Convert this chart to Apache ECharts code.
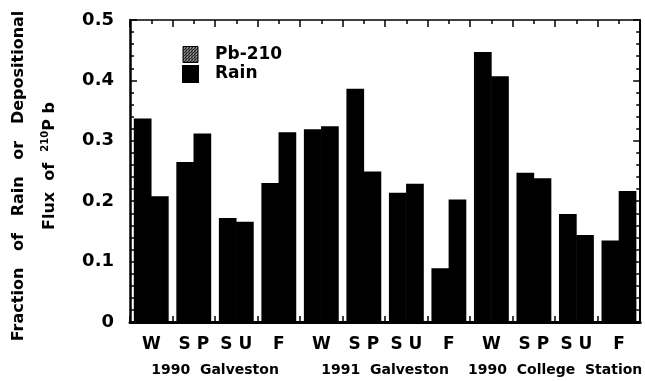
<!DOCTYPE html>
<html>
<head>
<meta charset="utf-8">
<script src="https://cdn.jsdelivr.net/npm/echarts@6/dist/echarts.min.js"></script>
<style>
  html, body { margin: 0; padding: 0; background: #fff; }
  #chart { width: 645px; height: 381px; }
</style>
</head>
<body>
<div id="chart"></div>
<script>
// Seasons for each site/year block
const categories = ['W', 'S P', 'S U', 'F', 'W', 'S P', 'S U', 'F', 'W', 'S P', 'S U', 'F'];
const groups = ['1990  Galveston', '1991  Galveston', '1990  College  Station'];
// Seasonal fraction of annual 210Pb depositional flux
const pb210 = [0.337, 0.265, 0.172, 0.230, 0.319, 0.386, 0.214, 0.089, 0.447, 0.247, 0.179, 0.135];
// Seasonal fraction of annual rainfall
const rain = [0.208, 0.312, 0.166, 0.314, 0.324, 0.249, 0.229, 0.203, 0.407, 0.238, 0.144, 0.217];
const yTicks = [0, 0.1, 0.2, 0.3, 0.4, 0.5];

const FONT = '"DejaVu Sans", "Noto Sans", sans-serif';

// stipple fill for the Pb-210 legend swatch
function stipple() {
  const c = document.createElement('canvas');
  c.width = 3; c.height = 3;
  const g = c.getContext('2d');
  g.fillStyle = '#222'; g.fillRect(0, 0, 3, 3);
  g.fillStyle = '#fff';
  g.fillRect(1, 1, 1, 1);
  g.fillStyle = '#999';
  g.fillRect(0, 2, 1, 1);
  g.fillRect(2, 0, 1, 1);
  return c;
}

const chart = echarts.init(document.getElementById('chart'), null, { renderer: 'canvas' });

const yCommon = {
  type: 'value',
  min: yTicks[0],
  max: yTicks[yTicks.length - 1],
  interval: yTicks[1] - yTicks[0],
  splitLine: { show: false },
  axisLine: { show: true, lineStyle: { color: '#000', width: 2.5 } },
  axisTick: { show: true, inside: true, length: 7, lineStyle: { color: '#000', width: 1.5 } },
  minorTick: { show: true, splitNumber: 5, length: 4, lineStyle: { color: '#000', width: 1.5 } }
};

const barStyle = { color: '#000', borderColor: '#000', borderWidth: 1.5 };

chart.setOption({
  animation: false,
  backgroundColor: '#fff',
  grid: { left: 130, right: 3, top: 20, bottom: 59 },
  legend: {
    orient: 'vertical',
    left: 177,
    top: 41,
    itemWidth: 15,
    itemHeight: 16,
    itemGap: 2,
    icon: 'rect',
    textStyle: { fontFamily: FONT, fontWeight: 'bold', fontSize: 17, color: '#000', padding: [0, 0, 0, 12] },
    data: [
      { name: 'Pb-210', itemStyle: { color: { image: stipple(), repeat: 'repeat' }, borderColor: '#000', borderWidth: 1 } },
      { name: 'Rain', itemStyle: { color: '#000' } }
    ]
  },
  xAxis: [
    {
      type: 'category',
      data: categories,
      position: 'bottom',
      axisLine: { show: true, lineStyle: { color: '#000', width: 3 } },
      axisTick: { show: true, inside: true, length: 6, interval: 0, lineStyle: { color: '#000', width: 1.5 } },
      axisLabel: { interval: 0, margin: 14, fontFamily: FONT, fontWeight: 'bold', fontSize: 17, color: '#000' },
      splitLine: { show: false }
    },
    {
      type: 'category',
      data: groups,
      position: 'bottom',
      offset: 0,
      axisLine: { show: false },
      axisTick: { show: false },
      axisLabel: { interval: 0, margin: 41, fontFamily: FONT, fontWeight: 'bold', fontSize: 14, color: '#000' },
      splitLine: { show: false }
    },
    {
      type: 'value',
      position: 'top',
      min: 0,
      max: categories.length,
      interval: 1,
      axisLine: { show: true, lineStyle: { color: '#000', width: 1.5 } },
      axisTick: { show: true, inside: true, length: 7, lineStyle: { color: '#000', width: 1.5 } },
      minorTick: { show: true, splitNumber: 2, length: 4, lineStyle: { color: '#000', width: 1.5 } },
      axisLabel: { show: false },
      splitLine: { show: false }
    }
  ],
  yAxis: [
    Object.assign({}, yCommon, {
      position: 'left',
      axisLabel: { margin: 16, fontFamily: FONT, fontWeight: 'bold', fontSize: 18, color: '#000' }
    }),
    Object.assign({}, yCommon, {
      position: 'right',
      axisLine: { show: true, lineStyle: { color: '#000', width: 2 } },
      axisLabel: { show: false }
    })
  ],
  graphic: [
    {
      type: 'text',
      x: 19,
      y: 176,
      rotation: Math.PI / 2,
      style: {
        text: 'Fraction   of   Rain   or   Depositional',
        font: 'bold 16px ' + FONT,
        fill: '#000',
        align: 'center',
        verticalAlign: 'middle'
      }
    },
    {
      type: 'text',
      x: 50,
      y: 166,
      rotation: Math.PI / 2,
      style: {
        text: 'Flux  of  {sup|210}P b',
        font: 'bold 16px ' + FONT,
        fill: '#000',
        align: 'center',
        verticalAlign: 'middle',
        rich: {
          sup: { fontSize: 10, fontWeight: 'bold', fontFamily: FONT, verticalAlign: 'top', lineHeight: 20, fill: '#000' }
        }
      }
    }
  ],
  series: [
    {
      name: 'Pb-210',
      type: 'bar',
      data: pb210,
      barGap: '-3%',
      barCategoryGap: '18%',
      itemStyle: barStyle
    },
    {
      name: 'Rain',
      type: 'bar',
      data: rain,
      barGap: '-3%',
      barCategoryGap: '18%',
      itemStyle: barStyle
    }
  ]
});
</script>
</body>
</html>
